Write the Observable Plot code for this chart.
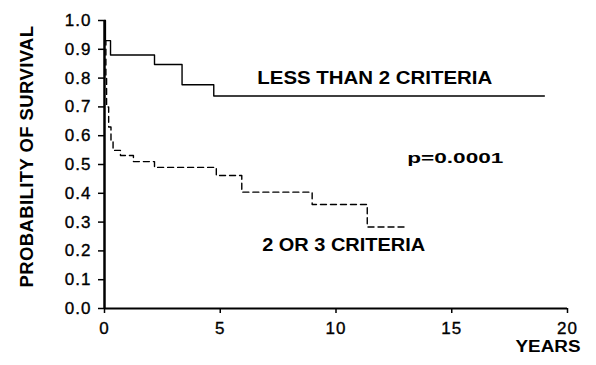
<!DOCTYPE html>
<html>
<head>
<meta charset="utf-8">
<script src="https://cdn.jsdelivr.net/npm/d3@7"></script>
<script src="https://cdn.jsdelivr.net/npm/@observablehq/plot@0.6"></script>
<style>
  html, body { margin: 0; padding: 0; background: #fff; }
  #chart svg { display: block; }
  #chart g[aria-label="y-axis tick label"] text,
  #chart g[aria-label="x-axis tick label"] text { letter-spacing: 1px; stroke: #000; stroke-width: 0.35px; }
</style>
</head>
<body>
<div id="chart"></div>
<script>
// Less than 2 criteria (solid)
const lowT = [0, 0.04, 0.26, 2.16, 3.35, 4.72, 19.0];
const lowS = [1.0, 0.93, 0.88, 0.847, 0.777, 0.738, 0.738];
// 2 or 3 criteria (dashed)
const highT = [0, 0.03, 0.06, 0.09, 0.18, 0.28, 0.37, 0.69, 1.25, 2.16, 4.83, 5.93, 8.97, 11.35, 13.0];
const highS = [1.0, 0.93, 0.80, 0.70, 0.63, 0.58, 0.549, 0.531, 0.51, 0.49, 0.462, 0.404, 0.361, 0.283, 0.283];

const xTicks = [0, 5, 10, 15, 20];
const yTicks = [0, 0.1, 0.2, 0.3, 0.4, 0.5, 0.6, 0.7, 0.8, 0.9, 1.0];

const yLabel = "PROBABILITY OF SURVIVAL";
const xLabel = "YEARS";
const groupLabels = ["LESS THAN 2 CRITERIA", "2 OR 3 CRITERIA"];
const groupLabelX = [6.6, 6.81];
const groupLabelY = [0.80, 0.219];
const pLabel = ["p=0.0001"];
const pLabelX = [13.08];
const pLabelY = [0.523];

const lowRows = lowT.map((t, i) => ({t, s: lowS[i]}));
const highRows = highT.map((t, i) => ({t, s: highS[i]}));
const groupRows = groupLabels.map((label, i) => ({label, x: groupLabelX[i], y: groupLabelY[i]}));
const pRows = pLabel.map((label, i) => ({label, x: pLabelX[i], y: pLabelY[i]}));

const font = "'Liberation Sans', Arial, Helvetica, sans-serif";

const chart = Plot.plot({
  width: 596,
  height: 365,
  marginLeft: 104,
  marginRight: 29,
  marginTop: 20,
  marginBottom: 57,
  style: {fontFamily: font, color: "#000", background: "#fff", overflow: "visible"},
  x: {domain: [0, 20]},
  y: {domain: [0, 1]},
  marks: [
    Plot.axisY({ticks: yTicks, tickFormat: d3.format(".1f"), tickSize: 6, tickPadding: 7, fontSize: 17, label: null, strokeWidth: 1.5}),
    Plot.axisX({ticks: xTicks, tickSize: 5, tickPadding: 8, fontSize: 17, label: null, strokeWidth: 1.5}),
    Plot.ruleX([0], {strokeWidth: 2.5}),
    Plot.ruleY([0], {strokeWidth: 2}),
    Plot.line(lowRows, {x: "t", y: "s", curve: "step-after", stroke: "#000", strokeWidth: 1.4}),
    Plot.line(highRows, {x: "t", y: "s", curve: "step-after", stroke: "#000", strokeWidth: 1.4, strokeDasharray: "6,4"}),
    Plot.text(groupRows, {x: "x", y: "y", text: "label", textAnchor: "start", fontSize: 18.5, fontWeight: "bold"}),
    Plot.text(pRows, {x: "x", y: "y", text: "label", textAnchor: "start", fontSize: 14.5, fontWeight: "bold"}),
    Plot.text([yLabel], {frameAnchor: "left", textAnchor: "middle", lineAnchor: "middle", rotate: -90, dx: -77, dy: -8, fontSize: 18.5, fontWeight: "bold"}),
    Plot.text([xLabel], {frameAnchor: "bottom-right", textAnchor: "end", dx: 13, dy: 43, fontSize: 16, fontWeight: "bold"})
  ]
});

// stretch the heavy, wide lettering of the original (start/end anchored texts only)
const widths = {"LESS THAN 2 CRITERIA": 235, "2 OR 3 CRITERIA": 163, "p=0.0001": 96, "YEARS": 65};
d3.select(chart).selectAll("text").each(function() {
  const w = widths[this.textContent];
  if (w) { this.setAttribute("textLength", w); this.setAttribute("lengthAdjust", "spacingAndGlyphs"); }
  if (this.textContent === yLabel) this.style.letterSpacing = "0.4px";
});

document.getElementById("chart").append(chart);
</script>
</body>
</html>
